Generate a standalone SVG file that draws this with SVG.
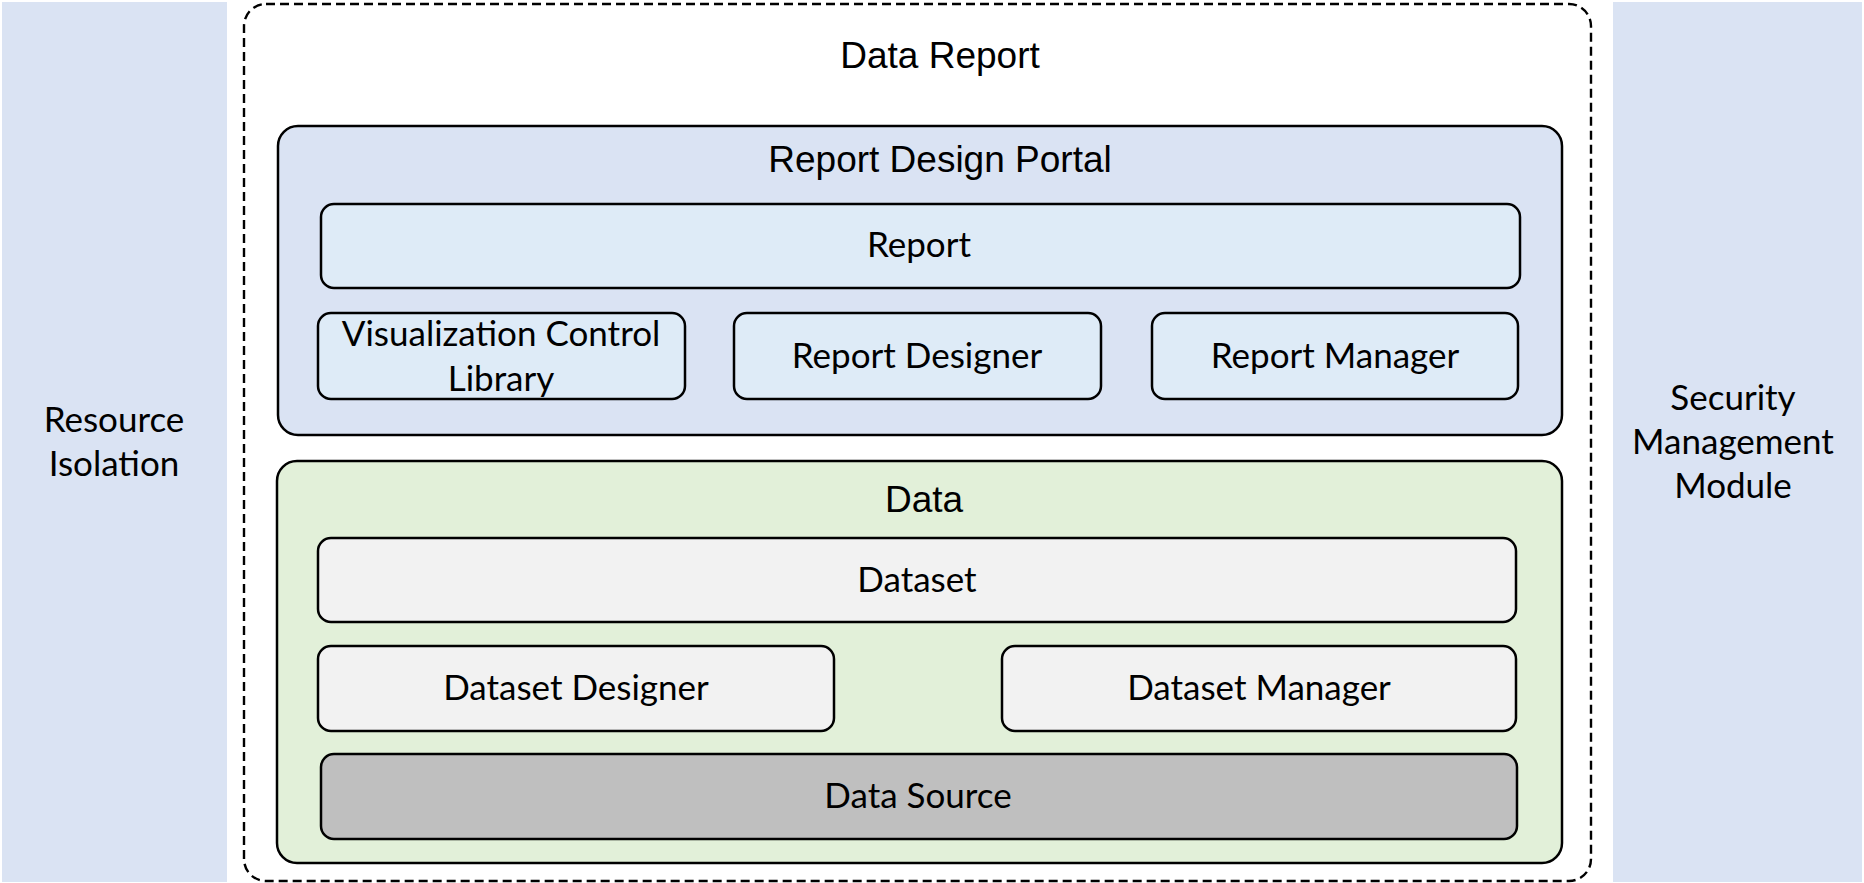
<svg xmlns="http://www.w3.org/2000/svg" width="1864" height="883" viewBox="0 0 1864 883">
<style>
.box{stroke:#000;stroke-width:2.5}
.lbl{font-family:Lato,"Liberation Sans",sans-serif;font-size:35px;fill:#000;text-anchor:middle}
.ttl{font-family:"Liberation Sans",Arial,sans-serif;font-size:37px;fill:#000;text-anchor:middle}
.side{fill:#DAE3F3}
.portal{fill:#DAE3F3}
.blue{fill:#DEEBF7}
.green{fill:#E2F0D9}
.grey{fill:#F2F2F2}
.dark{fill:#BFBFBF}
</style>
<rect width="1864" height="883" fill="#fff"/>
<g id="resource-isolation">
<rect class="side" x="2" y="2" width="225" height="880"/>
<text class="lbl" x="114" y="432">Resource</text>
<text class="lbl" x="114" y="476">Isolation</text>
</g>
<g id="security-management">
<rect class="side" x="1613" y="2" width="249" height="880"/>
<text class="lbl" x="1733" y="410">Security</text>
<text class="lbl" x="1733" y="454">Management</text>
<text class="lbl" x="1733" y="498">Module</text>
</g>
<g id="data-report">
<rect x="244" y="4" width="1347" height="877" rx="22" fill="#fff" stroke="#000" stroke-width="2.4" stroke-dasharray="9,5"/>
<text class="ttl" x="940" y="68">Data Report</text>
</g>
<g id="report-design-portal">
<rect class="box portal" x="278" y="126" width="1284" height="309" rx="20"/>
<text class="ttl" x="940" y="172">Report Design Portal</text>
</g>
<g id="report">
<rect class="box blue" x="321" y="204" width="1199" height="84" rx="13"/>
<text class="lbl" x="919" y="257">Report</text>
</g>
<g id="visualization-control-library">
<rect class="box blue" x="318" y="313" width="367" height="86" rx="13"/>
<text class="lbl" x="501" y="346">Visualization Control</text>
<text class="lbl" x="501" y="391">Library</text>
</g>
<g id="report-designer">
<rect class="box blue" x="734" y="313" width="367" height="86" rx="13"/>
<text class="lbl" x="917" y="368">Report Designer</text>
</g>
<g id="report-manager">
<rect class="box blue" x="1152" y="313" width="366" height="86" rx="13"/>
<text class="lbl" x="1335" y="368">Report Manager</text>
</g>
<g id="data">
<rect class="box green" x="277" y="461" width="1285" height="402" rx="20"/>
<text class="ttl" x="924" y="512">Data</text>
</g>
<g id="dataset">
<rect class="box grey" x="318" y="538" width="1198" height="84" rx="13"/>
<text class="lbl" x="917" y="592">Dataset</text>
</g>
<g id="dataset-designer">
<rect class="box grey" x="318" y="646" width="516" height="85" rx="13"/>
<text class="lbl" x="576" y="700">Dataset Designer</text>
</g>
<g id="dataset-manager">
<rect class="box grey" x="1002" y="646" width="514" height="85" rx="13"/>
<text class="lbl" x="1259" y="700">Dataset Manager</text>
</g>
<g id="data-source">
<rect class="box dark" x="321" y="754" width="1196" height="85" rx="13"/>
<text class="lbl" x="918" y="808">Data Source</text>
</g>
<g id="connectors"/>
</svg>
